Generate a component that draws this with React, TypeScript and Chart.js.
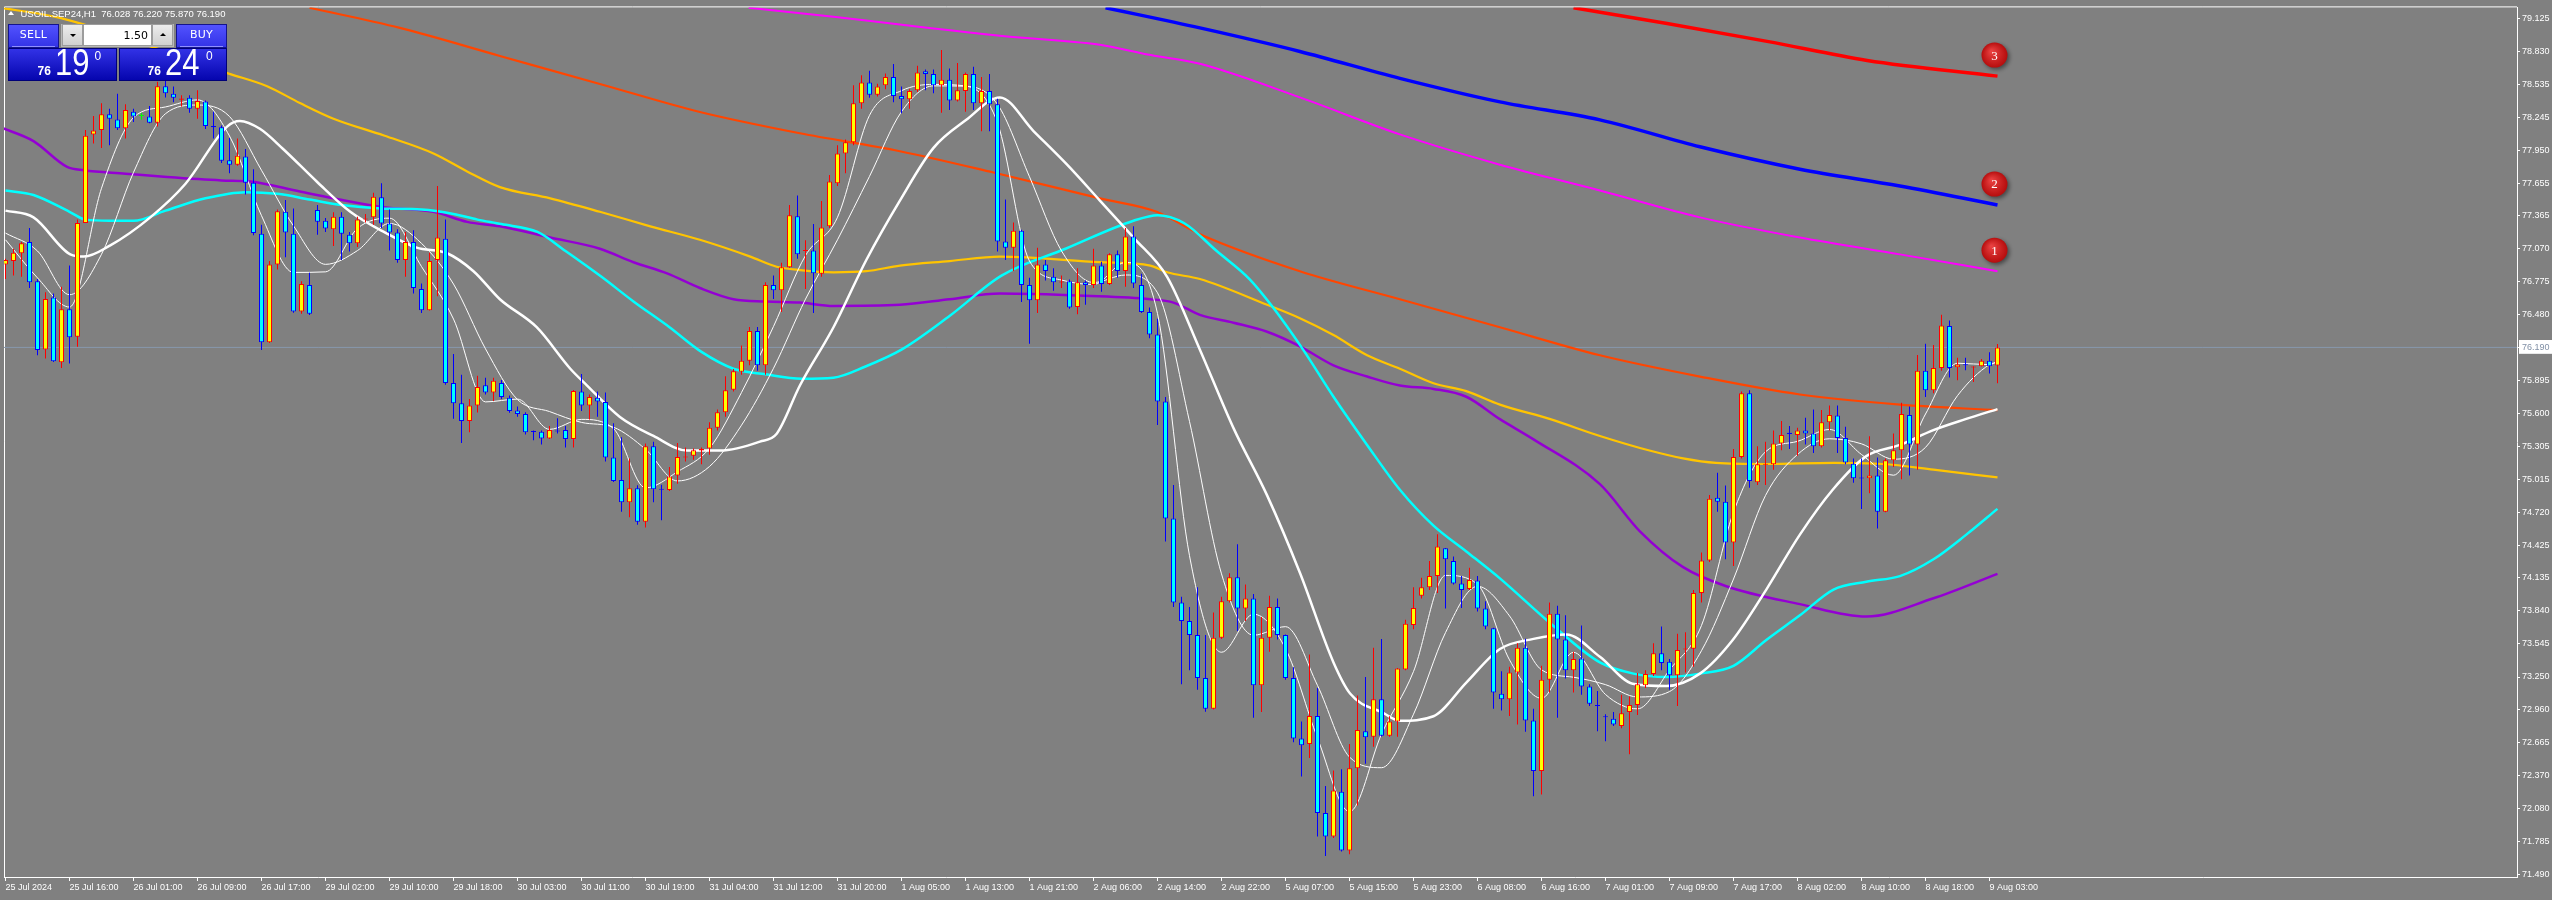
import React, { useEffect, useRef } from "react";
import { Chart, registerables } from "chart.js";

Chart.register(...registerables);

// ---------------- DATA ----------------
const SYMBOL = "USOIL.SEP24";
const TIMEFRAME = "H1";
const BID_PRICE = "76.190";
const ASK_PRICE = "76.240";
const LOT_SIZE = "1.50";

const OPEN = [
  76.93, 76.96, 77.03, 77.13, 76.781, 76.172, 76.636, 76.057, 76.531, 76.286,
  77.30, 78.089, 78.129, 78.269, 78.224, 78.144, 78.293, 78.255, 78.249, 78.194,
  78.52, 78.453, 78.40, 78.418, 78.318, 78.383, 78.165, 78.154, 77.859, 77.819,
  77.894, 77.659, 77.205, 76.236, 76.93, 77.40, 77.205, 76.511, 76.746, 77.415,
  77.32, 77.245, 77.355, 77.195, 77.12, 77.33, 77.35, 77.53, 77.295, 77.215,
  76.97, 77.13, 76.711, 76.521, 76.97, 77.16, 75.872, 75.692, 75.533, 75.672,
  75.852, 75.787, 75.872, 75.742, 75.627, 75.597, 75.44, 75.438, 75.378, 75.445,
  75.453, 75.373, 75.797, 75.672, 75.742, 75.702, 75.208, 75.008, 74.809, 74.934,
  74.634, 75.308, 74.93, 74.919, 75.048, 75.208, 75.223, 75.27, 75.288, 75.473,
  75.612, 75.812, 75.972, 76.072, 76.336, 76.032, 76.746, 76.701, 76.905, 77.36,
  77.05, 77.055, 76.846, 77.27, 77.654, 77.919, 78.019, 78.368, 78.553, 78.443,
  78.528, 78.603, 78.433, 78.403, 78.483, 78.653, 78.628, 78.528, 78.578, 78.393,
  78.478, 78.628, 78.368, 78.478, 78.358, 77.135, 77.08, 77.23, 76.746, 76.611,
  76.93, 76.821, 76.768, 76.781, 76.551, 76.771, 76.746, 76.92, 76.756, 77.02,
  76.871, 77.18, 76.746, 76.506, 76.306, 75.707, 74.664, 73.915, 73.75, 73.625,
  73.241, 72.966, 73.60, 73.925, 74.14, 73.86, 73.95, 73.176, 73.60, 73.875,
  73.625, 73.241, 72.702, 72.652, 72.902, 72.038, 71.828, 72.227, 71.703, 72.437,
  72.767, 72.717, 73.051, 72.727, 72.852, 73.316, 73.715, 73.975, 74.05, 74.15,
  74.399, 74.285, 74.085, 74.035, 74.11, 73.86, 73.685, 73.101, 73.051, 73.291,
  73.511, 72.862, 72.412, 73.226, 73.815, 73.585, 73.311, 73.416, 73.166, 73.00,
  72.896, 72.877, 72.812, 72.937, 73.001, 73.176, 73.276, 73.461, 73.386, 73.266,
  73.495, 73.501, 74.00, 74.29, 74.849, 74.814, 74.449, 75.213, 75.782, 74.988,
  75.143, 75.148, 75.333, 75.428, 75.408, 75.448, 75.423, 75.308, 75.523, 75.583,
  75.383, 75.153, 75.025, 75.023, 75.048, 74.724, 75.183, 75.273, 75.588, 75.323,
  75.982, 75.807, 76.007, 76.381, 76.012, 76.035, 76.01, 76.022, 76.072, 76.028,
];

const HIGH = [
  76.98, 77.07, 77.13, 77.255, 76.80, 76.681, 76.67, 76.731, 76.92, 77.33,
  78.129, 78.254, 78.368, 78.318, 78.453, 78.358, 78.32, 78.28, 78.343, 78.56,
  78.60, 78.518, 78.44, 78.44, 78.483, 78.393, 78.293, 78.17, 78.059, 78.054,
  77.959, 77.779, 77.285, 76.96, 77.42, 77.505, 77.43, 76.78, 76.856, 77.46,
  77.345, 77.395, 77.395, 77.22, 77.355, 77.38, 77.57, 77.654, 77.42, 77.245,
  77.22, 77.235, 76.76, 77.035, 77.629, 77.33, 76.132, 75.947, 75.73, 75.937,
  75.92, 75.92, 75.90, 75.76, 75.662, 75.612, 75.448, 75.448, 75.488, 75.558,
  75.488, 75.81, 75.952, 75.77, 75.797, 75.787, 75.513, 75.388, 75.198, 74.96,
  75.333, 75.348, 74.964, 75.123, 75.338, 75.298, 75.288, 75.298, 75.523, 75.637,
  75.932, 75.997, 76.207, 76.371, 76.371, 76.771, 76.831, 76.945, 77.46, 77.545,
  77.145, 77.29, 77.495, 77.729, 77.994, 78.044, 78.528, 78.618, 78.658, 78.543,
  78.633, 78.718, 78.518, 78.493, 78.703, 78.668, 78.668, 78.843, 78.678, 78.728,
  78.643, 78.693, 78.603, 78.628, 78.408, 77.51, 77.305, 77.24, 76.811, 77.08,
  76.97, 76.896, 76.831, 76.796, 76.896, 76.786, 77.07, 76.955, 77.03, 77.055,
  77.255, 77.27, 76.846, 76.546, 76.446, 75.747, 74.963, 73.965, 73.875, 74.05,
  73.625, 73.825, 73.965, 74.175, 74.434, 74.075, 73.99, 73.785, 73.975, 73.95,
  73.63, 73.336, 72.852, 73.451, 73.151, 72.277, 72.417, 72.427, 72.652, 73.086,
  73.251, 73.511, 73.59, 72.90, 73.33, 73.76, 74.05, 74.135, 74.285, 74.524,
  74.40, 74.325, 74.15, 74.225, 74.15, 73.925, 73.69, 73.301, 73.341, 73.551,
  73.591, 72.966, 73.351, 73.915, 73.885, 73.80, 73.476, 73.71, 73.186, 73.126,
  72.917, 72.937, 73.091, 73.076, 73.286, 73.311, 73.551, 73.70, 73.41, 73.635,
  73.65, 74.025, 74.36, 74.874, 75.073, 74.958, 75.283, 75.797, 75.807, 75.308,
  75.348, 75.448, 75.533, 75.488, 75.473, 75.563, 75.637, 75.632, 75.672, 75.672,
  75.483, 75.198, 75.198, 75.398, 75.208, 75.198, 75.423, 75.697, 75.662, 76.122,
  76.222, 76.212, 76.481, 76.431, 76.097, 76.097, 76.022, 76.087, 76.147, 76.22,
];

const LOW = [
  76.80, 76.831, 76.82, 76.721, 76.12, 76.092, 76.06, 76.007, 76.047, 76.197,
  77.30, 78.009, 77.969, 77.994, 78.13, 78.054, 78.20, 78.22, 78.19, 78.16,
  78.42, 78.378, 78.34, 78.283, 78.229, 78.139, 78.054, 77.834, 77.744, 77.81,
  77.555, 77.19, 76.167, 76.23, 76.885, 76.995, 76.50, 76.49, 76.48, 77.195,
  77.22, 77.095, 76.97, 77.045, 77.085, 77.305, 77.285, 77.255, 77.055, 76.945,
  76.82, 76.671, 76.496, 76.52, 76.646, 75.857, 75.553, 75.338, 75.433, 75.61,
  75.77, 75.712, 75.73, 75.607, 75.572, 75.413, 75.363, 75.323, 75.373, 75.423,
  75.298, 75.298, 75.622, 75.547, 75.572, 75.173, 74.99, 74.724, 74.674, 74.609,
  74.584, 74.809, 74.649, 74.91, 74.973, 75.173, 75.188, 75.148, 75.233, 75.448,
  75.572, 75.797, 75.947, 76.032, 75.982, 75.947, 76.621, 76.506, 76.90, 76.98,
  76.711, 76.496, 76.82, 77.255, 77.629, 77.744, 77.994, 78.318, 78.418, 78.428,
  78.493, 78.378, 78.278, 78.318, 78.468, 78.483, 78.458, 78.283, 78.308, 78.383,
  78.293, 78.308, 78.119, 78.119, 77.045, 76.97, 76.871, 76.596, 76.222, 76.496,
  76.786, 76.696, 76.721, 76.536, 76.486, 76.571, 76.72, 76.686, 76.746, 76.811,
  76.731, 76.721, 76.496, 76.272, 75.498, 74.459, 73.875, 73.186, 73.311, 73.136,
  72.941, 72.96, 73.59, 73.915, 73.66, 73.75, 72.887, 72.937, 73.476, 73.585,
  73.226, 72.667, 72.362, 72.527, 71.828, 71.653, 71.813, 71.693, 71.668, 72.103,
  72.477, 72.627, 72.72, 72.717, 72.717, 73.31, 73.675, 73.95, 74.025, 74.00,
  73.86, 74.075, 73.865, 74.025, 73.835, 73.675, 72.966, 72.951, 72.902, 72.827,
  72.762, 72.187, 72.202, 73.111, 72.887, 73.236, 73.111, 73.091, 72.991, 72.767,
  72.677, 72.812, 72.792, 72.562, 72.912, 73.151, 73.26, 73.311, 73.136, 72.991,
  73.291, 73.341, 73.915, 74.275, 74.724, 74.30, 74.24, 75.20, 74.938, 74.963,
  74.963, 75.098, 75.273, 75.283, 75.223, 75.323, 75.248, 75.298, 75.448, 75.248,
  75.148, 74.983, 74.749, 74.889, 74.574, 74.72, 75.123, 75.013, 75.048, 75.098,
  75.747, 75.782, 75.982, 75.922, 75.897, 75.987, 75.882, 76.02, 75.957, 75.87,
];

const CLOSE = [
  76.97, 77.035, 77.12, 76.771, 76.167, 76.621, 76.067, 76.531, 76.281, 77.30,
  78.079, 78.124, 78.269, 78.229, 78.144, 78.308, 78.249, 78.255, 78.194, 78.52,
  78.458, 78.418, 78.41, 78.318, 78.388, 78.164, 78.155, 77.854, 77.819, 77.899,
  77.659, 77.21, 76.236, 76.93, 77.405, 77.215, 76.511, 76.756, 76.491, 77.31,
  77.25, 77.355, 77.205, 77.12, 77.33, 77.34, 77.535, 77.295, 77.215, 76.97,
  77.13, 76.721, 76.521, 76.96, 77.17, 75.872, 75.692, 75.533, 75.672, 75.837,
  75.787, 75.892, 75.747, 75.622, 75.597, 75.433, 75.435, 75.378, 75.453, 75.44,
  75.373, 75.802, 75.672, 75.747, 75.707, 75.208, 74.998, 74.809, 74.934, 74.634,
  75.308, 74.924, 74.92, 75.038, 75.213, 75.213, 75.273, 75.283, 75.473, 75.612,
  75.807, 75.977, 76.072, 76.336, 76.032, 76.746, 76.701, 76.905, 77.37, 77.02,
  77.055, 76.851, 77.26, 77.669, 77.919, 78.019, 78.368, 78.553, 78.443, 78.518,
  78.603, 78.433, 78.403, 78.478, 78.643, 78.628, 78.528, 78.578, 78.393, 78.483,
  78.628, 78.368, 78.478, 78.358, 77.135, 77.08, 77.23, 76.746, 76.611, 76.93,
  76.871, 76.771, 76.774, 76.546, 76.771, 76.746, 76.92, 76.756, 77.02, 76.871,
  77.18, 76.761, 76.506, 76.306, 75.707, 74.664, 73.915, 73.75, 73.625, 73.241,
  72.966, 73.60, 73.925, 74.14, 73.86, 73.95, 73.176, 73.60, 73.875, 73.625,
  73.241, 72.702, 72.642, 72.902, 72.038, 71.828, 72.237, 71.703, 72.437, 72.777,
  72.712, 73.051, 72.727, 72.852, 73.326, 73.725, 73.865, 74.05, 74.15, 74.414,
  74.30, 74.085, 74.025, 74.115, 73.86, 73.70, 73.111, 73.051, 73.291, 73.511,
  72.862, 72.412, 73.226, 73.815, 73.585, 73.311, 73.411, 73.166, 73.011, 72.991,
  72.891, 72.827, 72.927, 73.001, 73.186, 73.276, 73.461, 73.376, 73.266, 73.491,
  73.501, 74.00, 74.29, 74.839, 74.814, 74.449, 75.213, 75.782, 74.998, 75.148,
  75.153, 75.333, 75.408, 75.418, 75.448, 75.423, 75.308, 75.523, 75.588, 75.383,
  75.163, 75.023, 75.02, 75.048, 74.724, 75.183, 75.273, 75.597, 75.323, 75.982,
  75.807, 76.007, 76.386, 76.007, 76.037, 76.03, 76.017, 76.072, 76.022, 76.19,
];

// moving-average lines as [bar index, price]
const MA_FAST = [[0,77.15],[4,76.81],[8,76.55],[12,77.61],[16,78.24],[20,78.335],[24,78.398],[28,78.076],[32,77.365],[36,76.859],[40,76.864],[44,77.252],[48,77.343],[52,76.911],[56,76.443],[60,75.704],[64,75.729],[68,75.459],[72,75.548],[76,75.466],[80,74.937],[84,75.081],[88,75.291],[92,75.788],[96,76.377],[100,77.01],[104,77.351],[108,78.26],[112,78.48],[116,78.536],[120,78.522],[124,78.193],[128,76.96],[132,76.791],[136,76.751],[140,76.949],[144,76.492],[148,74.332],[152,73.471],[156,73.81],[160,73.503],[164,72.705],[168,72.049],[172,72.741],[176,73.299],[180,74.156],[184,74.077],[188,73.403],[192,73.06],[196,73.47],[200,73.094],[204,72.966],[208,73.313],[212,73.71],[216,74.721],[220,75.259],[224,75.352],[228,75.458],[232,75.235],[236,75.05],[240,75.596],[244,76.049],[248,76.036],[249,76.066]];
const MA_SLOW = [[0,77.21],[4,77.05],[8,76.66],[12,77.021],[16,77.751],[20,78.275],[24,78.352],[28,78.25],[32,77.77],[36,77.274],[40,76.931],[44,77.054],[48,77.296],[52,77.118],[56,76.755],[60,76.177],[64,75.725],[68,75.618],[72,75.521],[76,75.478],[80,75.282],[84,74.999],[88,75.128],[92,75.496],[96,76.004],[100,76.621],[104,77.15],[108,77.716],[112,78.293],[116,78.523],[120,78.52],[124,78.358],[128,77.712],[132,77.051],[136,76.769],[140,76.836],[144,76.677],[148,75.529],[152,74.17],[156,73.623],[160,73.699],[164,73.175],[168,72.536],[172,72.441],[176,72.918],[180,73.646],[184,74.059],[188,73.795],[192,73.314],[196,73.248],[200,73.182],[204,73.072],[208,73.12],[212,73.485],[216,74.124],[220,74.869],[224,75.235],[228,75.375],[232,75.33],[236,75.193],[240,75.298],[244,75.76],[248,76.037],[249,76.058]];
const MA_MID = [[0,77.41],[3.5,77.35],[8.1,77.02],[9.8,77.0],[13.1,77.1],[18.1,77.35],[22.5,77.65],[27.7,78.16],[29.3,78.21],[31.8,78.14],[34.7,77.96],[38.9,77.67],[43.1,77.4],[47.3,77.22],[51.4,77.08],[55.2,77.03],[58.5,76.87],[61.8,76.62],[66.4,76.37],[70.6,76.0],[72.7,75.85],[76.8,75.57],[81,75.4],[85.2,75.27],[89.3,75.27],[94.3,75.35],[96.4,75.42],[99.3,75.85],[103.5,76.37],[107.6,76.97],[111.8,77.5],[116,77.97],[120.1,78.22],[124.3,78.42],[128.5,78.12],[132.7,77.82],[136.8,77.5],[141,77.17],[145.2,76.82],[149.3,76.17],[153.5,75.47],[157.7,74.87],[161.8,74.18],[166,73.38],[168.1,73.1],[172.2,72.93],[174.3,72.86],[178.5,72.9],[182.6,73.2],[186.8,73.5],[191,73.59],[195.1,73.63],[199.3,73.43],[203.4,73.19],[207.6,73.17],[211.8,73.28],[215.9,73.58],[220.1,74.03],[224.3,74.52],[228.4,74.92],[232.6,75.22],[236.8,75.32],[240.9,75.45],[245,75.55],[249,75.64]];
const MA_CYAN = [[0,77.59],[3.5,77.55],[8,77.4],[10,77.33],[13,77.32],[16,77.32],[20,77.41],[25,77.52],[30,77.575],[34,77.56],[38,77.51],[42,77.46],[47,77.43],[52,77.42],[56,77.38],[59,77.33],[62,77.29],[66.5,77.22],[70,77.05],[74.5,76.82],[78.5,76.6],[83,76.37],[87,76.15],[91,76.0],[95,75.95],[99.5,75.91],[103.5,75.92],[107.5,76.02],[112,76.17],[118,76.47],[124.5,76.83],[132.5,77.07],[141,77.32],[144,77.37],[147.3,77.3],[151.4,77.05],[155.5,76.8],[158.4,76.55],[162.2,76.17],[166,75.75],[170.2,75.32],[174.3,74.92],[178.5,74.6],[182.6,74.37],[186.8,74.13],[193.1,73.73],[199.3,73.38],[203.5,73.28],[207.6,73.25],[211.8,73.28],[216,73.35],[220.1,73.58],[224.3,73.8],[228.5,74.03],[232.6,74.1],[236.8,74.15],[241,74.3],[245.1,74.52],[249,74.75]];
const MA_GOLD = [[-0.7,79.22],[6.8,79.13],[28,78.63],[32.7,78.52],[36.8,78.37],[41,78.23],[47.3,78.08],[53.5,77.92],[57.7,77.76],[61.8,77.62],[68.1,77.52],[74.3,77.4],[80.6,77.27],[86.8,77.15],[93.1,77.0],[96.4,76.91],[99.3,76.88],[103.5,76.86],[107.6,76.87],[111.8,76.92],[118,76.96],[124.3,77.0],[136.8,76.95],[143.1,76.92],[145.2,76.86],[149.3,76.8],[157.7,76.57],[161.8,76.45],[166,76.3],[170.2,76.12],[174.3,76.0],[178.5,75.87],[182.6,75.8],[186.8,75.68],[193.1,75.55],[199.3,75.4],[205.5,75.27],[209.7,75.2],[213.8,75.16],[220.1,75.15],[228.5,75.16],[234.7,75.15],[241,75.1],[249,75.03]];
const MA_PURPLE = [[-0.5,78.15],[3.5,78.03],[7.7,77.8],[9.8,77.77],[15,77.74],[20.2,77.71],[27,77.68],[30.6,77.67],[36.8,77.58],[41,77.52],[47.3,77.44],[53.5,77.4],[57.7,77.31],[61.8,77.27],[68.1,77.17],[74.3,77.07],[78.5,76.95],[82.7,76.85],[86.8,76.72],[91,76.62],[95.1,76.6],[99.3,76.59],[103.5,76.56],[111.8,76.57],[118,76.62],[124.3,76.67],[135,76.65],[143.1,76.62],[146,76.59],[149.3,76.48],[153.5,76.41],[157.7,76.33],[161.8,76.2],[166,76.03],[170.2,75.93],[174.3,75.85],[178.5,75.82],[182.6,75.75],[186.8,75.55],[191,75.37],[199.3,74.97],[204.3,74.55],[209.7,74.23],[215.1,74.06],[224.3,73.9],[232.6,73.79],[240.9,73.95],[249,74.17]];
const MA_ORANGE = [[38,79.22],[49.3,79.04],[61.8,78.79],[74.3,78.54],[86.8,78.29],[99.3,78.1],[111.8,77.94],[123.5,77.75],[136.8,77.52],[143.9,77.4],[149.3,77.2],[161.8,76.87],[174.3,76.62],[186.8,76.37],[199.3,76.12],[211.8,75.93],[224.3,75.77],[236.8,75.68],[249,75.63]];
const MA_MAGENTA = [[92.9,79.22],[103.5,79.14],[111.8,79.07],[124.3,78.97],[136.8,78.89],[143,78.8],[149.3,78.72],[161.8,78.42],[174.3,78.09],[186.8,77.82],[199.3,77.59],[211.8,77.35],[224.3,77.17],[236.8,77.02],[249,76.87]];
const MA_BLUE = [[137.5,79.22],[149.3,79.04],[161.8,78.83],[174.3,78.59],[186.8,78.38],[199.3,78.22],[211.8,77.98],[224.3,77.78],[236.8,77.63],[249,77.46]];
const MA_RED = [[196,79.22],[207.7,79.08],[220.2,78.92],[232.7,78.75],[249,78.61]];

const Y_TICKS = [79.125, 78.830, 78.535, 78.245, 77.950, 77.655, 77.365, 77.070, 76.775, 76.480, 76.190, 75.895, 75.600, 75.305, 75.015, 74.720, 74.425, 74.135, 73.840, 73.545, 73.250, 72.960, 72.665, 72.370, 72.080, 71.785, 71.490];
const X_LABELS = ["25 Jul 2024","25 Jul 16:00","26 Jul 01:00","26 Jul 09:00","26 Jul 17:00","29 Jul 02:00","29 Jul 10:00","29 Jul 18:00","30 Jul 03:00","30 Jul 11:00","30 Jul 19:00","31 Jul 04:00","31 Jul 12:00","31 Jul 20:00","1 Aug 05:00","1 Aug 13:00","1 Aug 21:00","2 Aug 06:00","2 Aug 14:00","2 Aug 22:00","5 Aug 07:00","5 Aug 15:00","5 Aug 23:00","6 Aug 08:00","6 Aug 16:00","7 Aug 01:00","7 Aug 09:00","7 Aug 17:00","8 Aug 02:00","8 Aug 10:00","8 Aug 18:00","9 Aug 03:00"];
const LABEL_STEP = 8;

const X_MIN = -0.1875;
const X_MAX = 313.9375;
const Y_MIN = 71.466;
const Y_MAX = 79.223;

const LAST = CLOSE.length - 1;
const CURRENT_PRICE = CLOSE[LAST];

// ---------------- CHART ----------------
const pts = (arr) => arr.map(([x, y]) => ({ x, y }));

const bull = (i) => CLOSE[i] > OPEN[i];
const doji = (i) => CLOSE[i] === OPEN[i];
const edgeColor = (i) => (doji(i) ? "#00ff00" : bull(i) ? "#ff0000" : "#0000ff");
const fillColor = (i) => (doji(i) ? "#00ff00" : bull(i) ? "#ffff00" : "#00ffff");

const bgPlugin = {
  id: "bgFill",
  beforeDraw(chart) {
    const { ctx, width, height } = chart;
    ctx.save();
    ctx.fillStyle = "#808080";
    ctx.fillRect(0, 0, width, height);
    ctx.restore();
  },
};

const framePlugin = {
  id: "frame",
  beforeDatasetsDraw(chart) {
    const { ctx, chartArea: a } = chart;
    ctx.save();
    ctx.strokeStyle = "#ffffff";
    ctx.lineWidth = 1;
    ctx.beginPath();
    ctx.moveTo(a.left + 0.5, a.bottom);
    ctx.lineTo(a.left + 0.5, a.top - 0.5);
    ctx.lineTo(a.right, a.top - 0.5);
    ctx.stroke();
    ctx.restore();
  },
};

const markerPlugin = {
  id: "lineMarkers",
  afterDatasetsDraw(chart) {
    const ctx = chart.ctx;
    chart.data.datasets.forEach((ds, i) => {
      if (!ds.marker) return;
      const meta = chart.getDatasetMeta(i);
      const pt = meta.data[meta.data.length - 1];
      if (!pt) return;
      const cx = pt.x - 3;
      const cy = pt.y - 21;
      ctx.save();
      ctx.shadowColor = "rgba(0,0,0,0.45)";
      ctx.shadowBlur = 4;
      ctx.shadowOffsetX = 2;
      ctx.shadowOffsetY = 2;
      const g = ctx.createRadialGradient(cx - 3, cy - 4, 1, cx, cy, 13);
      g.addColorStop(0, "#e84040");
      g.addColorStop(1, "#b50c0c");
      ctx.fillStyle = g;
      ctx.beginPath();
      ctx.ellipse(cx, cy, 13, 12.5, 0, 0, Math.PI * 2);
      ctx.fill();
      ctx.restore();
      ctx.save();
      ctx.fillStyle = "#ffffff";
      ctx.font = '13px "Liberation Serif", serif';
      ctx.textAlign = "center";
      ctx.textBaseline = "middle";
      ctx.fillText(ds.marker, cx, cy + 1);
      ctx.restore();
    });
  },
};

function lineDs(label, arr, color, width, order, extra = {}) {
  return {
    type: "line",
    label,
    data: pts(arr),
    borderColor: color,
    backgroundColor: color,
    borderWidth: width,
    pointRadius: 0,
    fill: false,
    tension: 0,
    cubicInterpolationMode: "monotone",
    order,
    ...extra,
  };
}

// ---------------- PANEL ----------------
const UI_FONT = '"DejaVu Sans", "Liberation Sans", sans-serif';
const NUM_FONT = '"Liberation Sans", Arial, sans-serif';

function PriceBox({ left, width, price, offs }) {
  const [intPart, frac] = price.split(".");
  return (
    <div
      style={{
        position: "absolute",
        left,
        top: 48,
        width,
        height: 33,
        boxSizing: "border-box",
        border: "1px solid #000078",
        background: "linear-gradient(#3232e6, #0505ae)",
      }}
    >
      <div style={{ position: "absolute", left: offs[0], top: 16, font: `bold 12px ${NUM_FONT}`, lineHeight: "12px", color: "#fff" }}>{intPart}</div>
      <div
        style={{
          position: "absolute",
          left: offs[1],
          top: -3.7,
          font: `36px ${NUM_FONT}`,
          lineHeight: "36px",
          color: "#fff",
          transform: "scaleX(0.86)",
          transformOrigin: "left top",
          whiteSpace: "pre",
        }}
      >
        {frac.slice(0, 2)}
      </div>
      <div style={{ position: "absolute", left: offs[2], top: 1, font: `12px ${NUM_FONT}`, lineHeight: "12px", color: "#fff" }}>{frac.slice(2)}</div>
    </div>
  );
}

function HeadButton({ left, text }) {
  return (
    <>
      <div
        style={{
          position: "absolute",
          left,
          top: 24,
          width: 51,
          height: 24,
          boxSizing: "border-box",
          border: "1px solid #14148c",
          background: "linear-gradient(#5252ff, #3333e6)",
        }}
      />
      <div
        style={{
          position: "absolute",
          left,
          top: 28.7,
          width: 51,
          textAlign: "center",
          font: `11px ${UI_FONT}`,
          lineHeight: "11px",
          color: "#fff",
          letterSpacing: 0.3,
        }}
      >
        {text}
      </div>
      <div style={{ position: "absolute", left: left + 4, top: 46, width: 43, height: 1, background: "#9090ff" }} />
    </>
  );
}

function TradePanel() {
  const header = `${SYMBOL},${TIMEFRAME}  ${OPEN[LAST].toFixed(3)} ${HIGH[LAST].toFixed(3)} ${LOW[LAST].toFixed(3)} ${CLOSE[LAST].toFixed(3)}`;
  return (
    <>
      <div
        style={{
          position: "absolute",
          left: 8,
          top: 11,
          width: 0,
          height: 0,
          borderLeft: "3.5px solid transparent",
          borderRight: "3.5px solid transparent",
          borderBottom: "4px solid #ffffff",
        }}
      />
      <div
        style={{
          position: "absolute",
          left: 20.5,
          top: 8.5,
          font: `9.5px ${NUM_FONT}`,
          lineHeight: "9.5px",
          color: "#ffffff",
          whiteSpace: "pre",
        }}
      >
        {header}
      </div>

      <HeadButton left={8} text="SELL" />
      <HeadButton left={176} text="BUY" />

      {/* lot size widget */}
      <div style={{ position: "absolute", left: 61, top: 24, width: 113, height: 23, background: "#b8b8b8" }} />
      <div
        style={{
          position: "absolute",
          left: 62,
          top: 24,
          width: 21,
          height: 22,
          boxSizing: "border-box",
          border: "1px solid #9c9c9c",
          background: "linear-gradient(#ececec, #d0d0d0)",
        }}
      >
        <div style={{ position: "absolute", left: 6.5, top: 9, width: 0, height: 0, borderLeft: "3px solid transparent", borderRight: "3px solid transparent", borderTop: "3px solid #000" }} />
      </div>
      <div
        style={{
          position: "absolute",
          left: 83,
          top: 24,
          width: 69,
          height: 22,
          boxSizing: "border-box",
          border: "1px solid #9c9c9c",
          background: "#ffffff",
        }}
      >
        <div style={{ position: "absolute", right: 3, top: 5, font: `11px ${UI_FONT}`, lineHeight: "11px", color: "#000" }}>{LOT_SIZE}</div>
      </div>
      <div
        style={{
          position: "absolute",
          left: 152,
          top: 24,
          width: 21,
          height: 22,
          boxSizing: "border-box",
          border: "1px solid #9c9c9c",
          background: "linear-gradient(#ececec, #d0d0d0)",
        }}
      >
        <div style={{ position: "absolute", left: 6.5, top: 8, width: 0, height: 0, borderLeft: "3px solid transparent", borderRight: "3px solid transparent", borderBottom: "3px solid #000" }} />
      </div>

      <PriceBox left={8} width={109} price={BID_PRICE} offs={[28.6, 46.3, 85.4]} />
      <PriceBox left={119} width={108} price={ASK_PRICE} offs={[27.6, 45.3, 86.1]} />
    </>
  );
}

export default function App() {
  const canvasRef = useRef(null);

  useEffect(() => {
    document.body.style.margin = "0";
    document.body.style.background = "#808080";
    const canvas = canvasRef.current;
    if (!canvas) return;

    const wicks = {
      type: "bar",
      label: "wicks",
      data: LOW.map((l, i) => ({ x: i, y: [l, HIGH[i]] })),
      backgroundColor: LOW.map((_, i) => edgeColor(i)),
      borderWidth: 0,
      barThickness: 1,
      grouped: false,
      inflateAmount: 0,
      order: 1,
    };
    const bodies = {
      type: "bar",
      label: "bodies",
      data: OPEN.map((o, i) => ({ x: i, y: [o, CLOSE[i]] })),
      backgroundColor: OPEN.map((_, i) => fillColor(i)),
      borderColor: OPEN.map((_, i) => edgeColor(i)),
      borderWidth: 1,
      borderSkipped: false,
      barThickness: 5,
      minBarLength: 1,
      grouped: false,
      inflateAmount: 0,
      order: 0,
    };

    const datasets = [
      lineDs("price", [[X_MIN, CURRENT_PRICE], [X_MAX, CURRENT_PRICE]], "#8797ac", 1, 50, { cubicInterpolationMode: "default" }),
      lineDs("MA red", MA_RED, "#ff0000", 3.5, 10, { marker: "3" }),
      lineDs("MA blue", MA_BLUE, "#0000ff", 3.5, 10, { marker: "2" }),
      lineDs("MA magenta", MA_MAGENTA, "#ff00ff", 2, 10, { marker: "1" }),
      lineDs("MA orange", MA_ORANGE, "#ff4500", 2.2, 9),
      lineDs("MA gold", MA_GOLD, "#ffc400", 2.2, 8),
      lineDs("MA purple", MA_PURPLE, "#9400d3", 2.5, 7),
      lineDs("MA cyan", MA_CYAN, "#00ffff", 2.5, 6),
      lineDs("MA mid", MA_MID, "#ffffff", 2.5, 5),
      lineDs("MA slow", MA_SLOW, "#ffffff", 1, 4),
      lineDs("MA fast", MA_FAST, "#ffffff", 1, 3),
      wicks,
      bodies,
    ];

    const chart = new Chart(canvas, {
      type: "bar",
      data: { datasets },
      options: {
        animation: false,
        responsive: false,
        devicePixelRatio: 1,
        events: [],
        layout: { padding: { left: 4, top: 5, right: 0, bottom: 0 } },
        plugins: {
          legend: { display: false },
          tooltip: { enabled: false },
        },
        scales: {
          x: {
            type: "linear",
            min: X_MIN,
            max: X_MAX,
            offset: false,
            afterBuildTicks: (s) => {
              s.ticks = X_LABELS.map((_, i) => ({ value: i * LABEL_STEP }));
            },
            afterFit: (s) => {
              s.height = 23;
            },
            ticks: {
              autoSkip: false,
              maxRotation: 0,
              minRotation: 0,
              align: "start",
              padding: 1,
              color: "#ffffff",
              font: { family: "Liberation Sans", size: 9 },
              callback: (v, i) => X_LABELS[i],
            },
            grid: { drawOnChartArea: false, drawTicks: true, tickLength: 4, color: "#ffffff", offset: false },
            border: { display: true, color: "#ffffff", width: 1 },
          },
          y: {
            type: "linear",
            position: "right",
            min: Y_MIN,
            max: Y_MAX,
            afterBuildTicks: (s) => {
              s.ticks = Y_TICKS.map((v) => ({ value: v }));
            },
            afterFit: (s) => {
              s.width = 35;
            },
            ticks: {
              autoSkip: false,
              padding: 2,
              color: (c) => (c.tick && c.tick.value === CURRENT_PRICE ? "#8190a6" : "#ffffff"),
              font: { family: "Liberation Sans", size: 9 },
              callback: (v) => Number(v).toFixed(3),
              showLabelBackdrop: (c) => !!(c.tick && c.tick.value === CURRENT_PRICE),
              backdropColor: "#ffffff",
              backdropPadding: { top: 2, bottom: 1, left: 3, right: 6 },
            },
            grid: { drawOnChartArea: false, drawTicks: true, tickLength: 3, color: "#ffffff" },
            border: { display: true, color: "#ffffff", width: 1 },
          },
        },
      },
      plugins: [bgPlugin, framePlugin, markerPlugin],
    });

    return () => chart.destroy();
  }, []);

  return (
    <div style={{ position: "relative", width: 2552, height: 900, background: "#808080", overflow: "hidden" }}>
      <canvas ref={canvasRef} width={2552} height={900} style={{ display: "block", width: 2552, height: 900 }} />
      <TradePanel />
    </div>
  );
}
